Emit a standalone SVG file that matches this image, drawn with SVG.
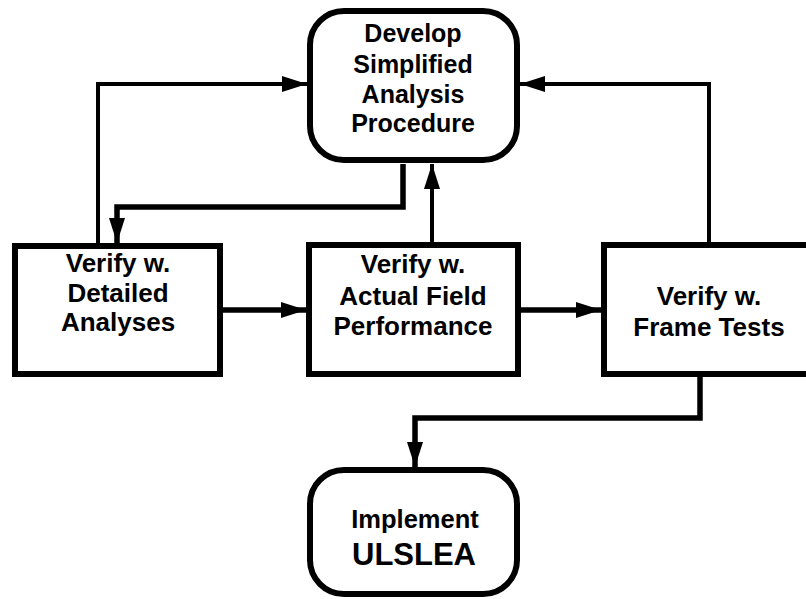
<svg xmlns="http://www.w3.org/2000/svg" width="806" height="599" viewBox="0 0 806 599">
  <style>
    .box { fill: #fff; stroke: #000; stroke-width: 6; }
    .lbl { font-family: "Liberation Sans", Arial, Helvetica, sans-serif; font-weight: bold; fill: #000; text-anchor: middle; }
    .thick { fill: none; stroke: #000; stroke-width: 5.5; marker-end: url(#arrow); }
    .thin { fill: none; stroke: #000; stroke-width: 4; marker-end: url(#arrow); }
  </style>
  <defs>
    <marker id="arrow" markerUnits="userSpaceOnUse" markerWidth="26" markerHeight="18" refX="25" refY="8" orient="auto">
      <path d="M0,0 L25,8 L0,16 Z" fill="#000"/>
    </marker>
  </defs>
  <rect width="806" height="599" fill="#fff"/>

  <g id="connectors">
    <!-- feedback from detailed analyses -->
    <path class="thin" d="M98,243 V84 H307"/>
    <!-- procedure out to detailed analyses -->
    <path class="thick" d="M403,164 V207 H117 V243"/>
    <!-- field performance back up -->
    <path class="thin" d="M432,242 V164"/>
    <!-- feedback from frame tests -->
    <path class="thin" d="M709,242 V84 H520"/>
    <!-- main chain -->
    <path class="thick" d="M223,310 H306"/>
    <path class="thick" d="M521,310 H601"/>
    <path class="thick" d="M700,377 V418 H415 V467"/>
  </g>

  <g id="develop">
    <rect class="box" x="310" y="11" width="207" height="149" rx="34"/>
    <text class="lbl" font-size="25" x="413" y="42">Develop</text>
    <text class="lbl" font-size="25" x="413" y="73">Simplified</text>
    <text class="lbl" font-size="25" x="413" y="103">Analysis</text>
    <text class="lbl" font-size="25" x="413" y="132">Procedure</text>
  </g>

  <g id="detailed">
    <rect class="box" x="15" y="246" width="205" height="128"/>
    <text class="lbl" font-size="26" x="118" y="272">Verify w.</text>
    <text class="lbl" font-size="26" x="118" y="302">Detailed</text>
    <text class="lbl" font-size="26" x="118" y="331">Analyses</text>
  </g>

  <g id="field">
    <rect class="box" x="309" y="245" width="209" height="129"/>
    <text class="lbl" font-size="26" x="413" y="273">Verify w.</text>
    <text class="lbl" font-size="26" x="413" y="305">Actual Field</text>
    <text class="lbl" font-size="26" x="413" y="335">Performance</text>
  </g>

  <g id="frame">
    <rect class="box" x="604" y="245" width="220" height="129"/>
    <text class="lbl" font-size="26" x="709" y="305">Verify w.</text>
    <text class="lbl" font-size="26" x="709" y="336">Frame Tests</text>
  </g>

  <g id="implement">
    <rect class="box" x="310" y="470" width="207" height="124" rx="34"/>
    <text class="lbl" font-size="25.5" x="415" y="528">Implement</text>
    <text class="lbl" font-size="31" x="414" y="565">ULSLEA</text>
  </g>
</svg>
